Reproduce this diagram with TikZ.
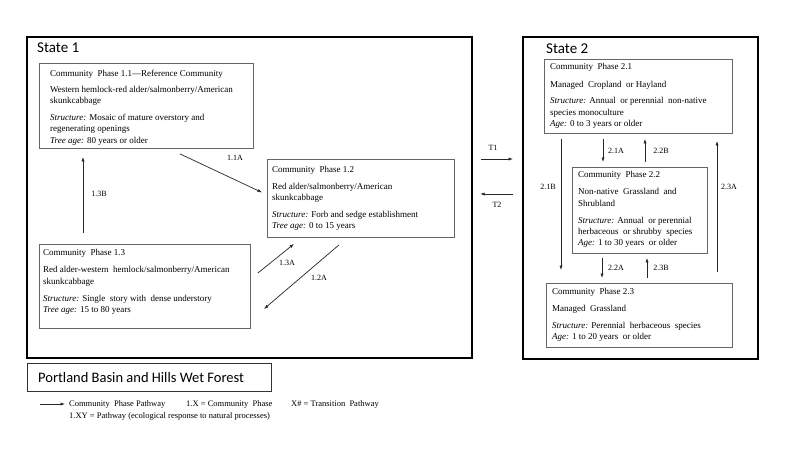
\documentclass[tikz,border=0pt]{standalone}
\usepackage{fontspec}
\setmainfont{Liberation Serif}
\newfontfamily\calibri{Carlito}
\usetikzlibrary{arrows.meta,calc}
\begin{document}
\begin{tikzpicture}[x=1pt,y=-1pt,
  statebox/.style={draw=black,line width=2.2pt,anchor=north west,inner sep=0pt},
  phasebox/.style={draw=black!60,line width=0.9pt,anchor=north west,inner sep=0pt},
  txt/.style={anchor=north west,align=left,inner sep=0pt,font=\fontsize{9}{11.4}\selectfont},
  lbl/.style={font=\fontsize{8}{9.6}\selectfont,inner sep=0pt},
  pway/.style={draw=black!85,line width=0.7pt,-{Latex[length=4.5pt,width=3.2pt]}},
  ttl/.style={font=\calibri\fontsize{15}{17}\selectfont,anchor=west,inner sep=0pt},
  leg/.style={font=\fontsize{8.5}{10}\selectfont,anchor=west,inner sep=0pt}
]
\useasboundingbox[fill=white] (0,0) rectangle (800,448);

% state boxes
\node[statebox,minimum width=445pt,minimum height=321pt] (s1) at (26,36) {};
\node[statebox,minimum width=235pt,minimum height=322pt] (s2) at (522,36) {};
\node[ttl] (s1t) at (37,48) {State 1};
\node[ttl] (s2t) at (546,49) {State 2};

% phase boxes
\node[phasebox,minimum width=214pt,minimum height=85pt] (b11) at (39,63) {};
\node[phasebox,minimum width=187pt,minimum height=78pt] (b12) at (267,159) {};
\node[phasebox,minimum width=211pt,minimum height=84pt] (b13) at (39,244) {};
\node[phasebox,minimum width=188pt,minimum height=74pt] (b21) at (544,59) {};
\node[phasebox,minimum width=135pt,minimum height=86pt] (b22) at (572,167) {};
\node[phasebox,minimum width=186pt,minimum height=64pt] (b23) at (546,283) {};

% texts
\node[txt] (t11) at (50,69.5) {Community\ \ Phase 1.1—Reference Community\\[5pt]
Western hemlock-red alder/salmonberry/American\\ skunkcabbage\\[5pt]
\textit{Structure:} Mosaic of mature overstory and\\ regenerating openings\\
\textit{Tree age:} 80 years or older};
\node[txt] (t12) at (272,166.5) {Community\ \ Phase 1.2\\[5pt]
Red alder/salmonberry/American\\ skunkcabbage\\[5pt]
\textit{Structure:} Forb and sedge establishment\\
\textit{Tree age:} 0 to 15 years};
\node[txt] (t13) at (43,249.5) {Community\ \ Phase 1.3\\[5.5pt]
Red alder-western\ \ hemlock/salmonberry/American\\ skunkcabbage\\[5.5pt]
\textit{Structure:} Single\ \ story with\ \ dense understory\\
\textit{Tree age:} 15 to 80 years};
\node[txt] (t21) at (550,63.5) {Community\ \ Phase 2.1\\[6pt]
Managed\ \ Cropland\ \ or Hayland\\[5pt]
\textit{Structure:} Annual\ \ or perennial\ \ non-native\\ species monoculture\\
\textit{Age:} 0 to 3 years or older};
\node[txt] (t22) at (578,171.5) {Community\ \ Phase 2.2\\[5.5pt]
Non-native\ \ Grassland\ \ and\\ Shrubland\\[5.5pt]
\textit{Structure:} Annual\ \ or perennial\\ herbaceous\ \ or shrubby\ \ species\\
\textit{Age:} 1 to 30 years\ \ or older};
\node[txt] (t23) at (552,288.5) {Community\ \ Phase 2.3\\[5.5pt]
Managed\ \ Grassland\\[5pt]
\textit{Structure:} Perennial\ \ herbaceous\ \ species\\
\textit{Age:} 1 to 20 years\ \ or older};

% state 1 pathways
\draw[pway] ($(b11.south west)+(141,5)$) -- ($(b12.west)+(-5,-6)$);
\draw[pway] ($(b13.north west)+(44,-11)$) -- ($(b11.south west)+(44,8)$);
\draw[pway] ($(b13.north east)+(7,29)$) -- ($(b12.south west)+(27,6)$);
\draw[pway] ($(b12.south west)+(72,7)$) -- ($(b13.north east)+(13,65)$);
\node[lbl] (l11a) at (235,158) {1.1A};
\node[lbl] (l13b) at (99,194) {1.3B};
\node[lbl] (l13a) at (287,263) {1.3A};
\node[lbl] (l12a) at (319,278) {1.2A};

% transitions
\draw[pway] ($(s1.north east)+(8,123)$) -- ($(s2.north west)+(-9,123)$);
\draw[pway] ($(s2.north west)+(-9,158)$) -- ($(s1.north east)+(7,158)$);
\node[lbl] (lt1) at (493,148) {T1};
\node[lbl] (lt2) at (497,205) {T2};

% state 2 pathways
\draw[pway] ($(b21.south west)+(59,5)$) -- ($(b22.north west)+(31,-5)$);
\draw[pway] ($(b22.north west)+(73,-5)$) -- ($(b21.south west)+(101,5)$);
\draw[pway] ($(b21.south west)+(17,5)$) -- ($(b23.north west)+(15,-13)$);
\draw[pway] ($(b23.north west)+(171,-11)$) -- ($(b21.south west)+(173,7)$);
\draw[pway] ($(b22.south west)+(30,4)$) -- ($(b23.north west)+(56,-5)$);
\draw[pway] ($(b23.north west)+(101,-5)$) -- ($(b22.south west)+(75,4)$);
\node[lbl] (l21a) at (616,151) {2.1A};
\node[lbl] (l22b) at (661,151) {2.2B};
\node[lbl] (l21b) at (548,187) {2.1B};
\node[lbl] (l23a) at (729,187) {2.3A};
\node[lbl] (l22a) at (616,268) {2.2A};
\node[lbl] (l23b) at (661,268) {2.3B};

% legend
\node[draw=black!80,line width=0.9pt,anchor=north west,minimum width=244pt,minimum height=28pt,inner sep=0pt] (lg) at (27,363) {};
\node[ttl,font=\calibri\fontsize{14.5}{17}\selectfont] (lgt) at (38,378) {Portland Basin and Hills Wet Forest};
\coordinate (la) at (40,404);
\coordinate (lb) at (65,404);
\draw[pway] (la) -- (lb);
\node[leg] (lg1) at (69,404) {Community\ \ Phase Pathway};
\node[leg] (lg2) at (186,404) {1.X = Community\ \ Phase};
\node[leg] (lg3) at (291,404) {X\# = Transition\ \ Pathway};
\node[leg] (lg4) at (69,416) {1.XY = Pathway (ecological response to natural processes)};
\end{tikzpicture}
\end{document}
